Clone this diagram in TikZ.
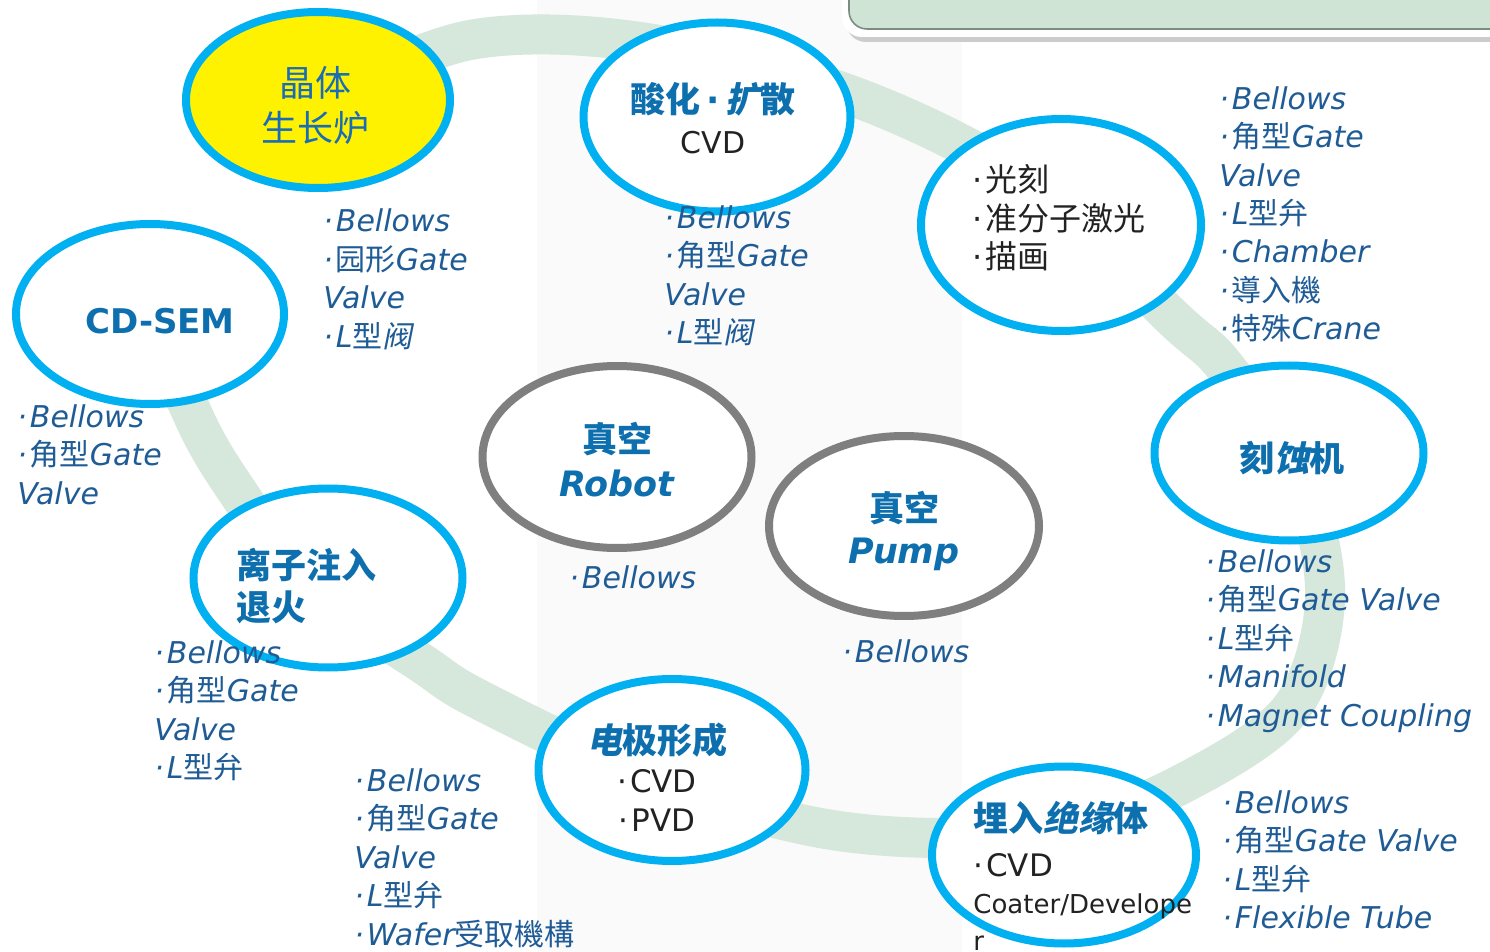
\documentclass[tikz,border=0pt]{standalone}
\usepackage{fontspec}
\setmainfont{DejaVu Sans}
\newfontfamily\cjk{Noto Sans CJK SC}
\newfontfamily\cjksl{Noto Sans CJK SC}[FakeSlant=0.2]
\usetikzlibrary{shapes.geometric, shadows}

\definecolor{ringblue}{HTML}{00B0F0}
\definecolor{ringgray}{HTML}{7F7F7F}
\definecolor{bandgreen}{HTML}{D6E7DC}
\definecolor{boxgreen}{HTML}{CFE4D5}
\definecolor{boxedge}{HTML}{7D8C82}
\definecolor{titleblue}{HTML}{0E6FAE}
\definecolor{itemblue}{HTML}{1F5C96}
\definecolor{crystalblue}{HTML}{1A6DB5}
\definecolor{darktext}{HTML}{222222}
\definecolor{paleband}{HTML}{FAFAFA}

\newcommand\zh[1]{{\cjk #1}}
\newcommand\zhsl[1]{{\cjksl #1}}
\newcommand\bul{·\kern1.5pt}

\pgfdeclarelayer{background}
\pgfsetlayers{background,main}

\begin{document}
\begin{tikzpicture}[ x = 0.5pt, y = -0.5pt
                   , station/.style = { ellipse
                                      , draw = ringblue
                                      , line width = 4pt
                                      , fill = white
                                      , inner sep = 0pt
                                      , drop shadow = {opacity = 0.2, shadow xshift = 1pt, shadow yshift = -1.5pt} }
                   , vacuum/.style = {station, draw = ringgray}
                   , headline/.style = { inner sep = 0pt
                                       , align = center
                                       , text = titleblue
                                       , font = \fontsize{17.5}{21}\selectfont\bfseries }
                   , itemlist/.style = { inner sep = 0pt
                                       , anchor = base west
                                       , align = left
                                       , text = itemblue
                                       , font = \fontsize{15}{19.25}\selectfont\itshape }
                   , band/.style = {line width = 20pt, draw = bandgreen}
                   ]

  \useasboundingbox (0,0) rectangle (1490,952);

  % box at the top, cut by the page edge
  \fill[black!20, rounded corners = 10pt] (846,-40) rectangle (1540,42);
  \fill[white, rounded corners = 10pt] (842,-40) rectangle (1540,37);
  \draw[fill = boxgreen, draw = boxedge, line width = 0.8pt, rounded corners = 9pt] (849,-40) rectangle (1540,29);

  % process steps
  \node (crystal) [station, fill = yellow, minimum width = 132pt, minimum height = 88pt] at (318,100) {};
  \node (oxid) [station, minimum width = 133.5pt, minimum height = 94.5pt] at (717,117) {};
  \node (litho) [station, minimum width = 140pt, minimum height = 106pt] at (1061,225) {};
  \node (etch) [station, minimum width = 134.5pt, minimum height = 87.5pt] at (1289,453) {};
  \node (isol) [station, minimum width = 132pt, minimum height = 88.5pt] at (1064,855) {};
  \node (electrode) [station, minimum width = 133.5pt, minimum height = 91pt] at (672,770) {};
  \node (implant) [station, minimum width = 134.5pt, minimum height = 89.5pt] at (328,578) {};
  \node (cdsem) [station, minimum width = 134pt, minimum height = 90pt] at (150,314) {};
  \node (robot) [vacuum, minimum width = 134.5pt, minimum height = 91pt] at (617,457) {};
  \node (pump) [vacuum, minimum width = 135pt, minimum height = 90pt] at (904,526) {};

  \begin{pgfonlayer}{background}
    \fill[white] (0,0) rectangle (1490,952);
    \fill[paleband] (537,0) rectangle (962,952);
    \draw[band] plot[smooth, tension = 0.55] coordinates
      { (crystal.center) (470,40) (640,42) (850,95) (1030,185) (1175,320) (1226,368)
        (1300,480) (1325,600) (1290,710) (1180,785) (1060,830) (935,838) (810,826)
        (650,780) (480,700) (420,662) (300,580) (243,500) (200,430) (cdsem.center) };
  \end{pgfonlayer}

  % texts in the ellipses (base = last line)
  \node (crystaltext) [inner sep = 0pt, align = center, text = crystalblue,
                       font = \fontsize{18}{22.5}\selectfont\cjk] at (315,105) {晶体\\生长炉};
  \node (oxidtext) [headline, anchor = base, font = \fontsize{17.5}{20.5}\selectfont\bfseries] at (713,154)
    {\zh{酸化}\,·\,\zhsl{扩}\zh{散}\\{\mdseries\fontsize{15}{15}\selectfont\color{darktext}CVD}};
  \node (lithotext) [inner sep = 0pt, anchor = base west, align = left, text = darktext,
                     font = \fontsize{16}{19.25}\selectfont] at (972,269)
    {\bul\zh{光刻}\\\bul\zh{准分子激光}\\\bul\zh{描画}};
  \node (etchtext) [headline] at (1292,458) {\zh{刻}\zhsl{蚀}\zh{机}};
  \node (isoltext) [inner sep = 0pt, anchor = base west, align = left, text = darktext,
                    font = \fontsize{13}{18.5}\selectfont] at (973,950)
    {{\color{titleblue}\bfseries\fontsize{17.5}{18.5}\selectfont\zh{埋入}\zhsl{绝缘}\zh{体}}\\[4pt]
     {\fontsize{15.5}{18.5}\selectfont \bul CVD}\\Coater/Develope\\r};
  \node (electrodetext) [headline, anchor = base, font = \fontsize{17.5}{19.5}\selectfont\bfseries] at (657,831)
    {\zhsl{电}\zh{极形成}\\{\mdseries\fontsize{15.5}{15.5}\selectfont\color{darktext}\bul CVD}\\
     {\mdseries\fontsize{15.5}{15.5}\selectfont\color{darktext}\bul PVD}};
  \node (implanttext) [headline, anchor = base west, align = left] at (236,620) {\zh{离子注入}\\\zh{退火}};
  \node (cdsemtext) [headline, font = \fontsize{17}{21}\selectfont\bfseries] at (160,321) {CD-SEM};
  \node (robottext) [headline, anchor = base, font = \fontsize{17.5}{22}\selectfont\bfseries] at (617,496)
    {\zh{真空}\\\itshape Robot};
  \node (pumptext) [headline, anchor = base, font = \fontsize{17.5}{21}\selectfont\bfseries] at (904,563)
    {\zh{真空}\\\itshape Pump};

  % parts used at each step (base = last line)
  \node (crystallist) [itemlist] at (323,347.5) {\bul Bellows\\\bul\zh{园形}Gate\\Valve\\\bul L\zh{型}\zhsl{阀}};
  \node (oxidlist) [itemlist] at (664,343.5) {\bul Bellows\\\bul\zh{角型}Gate\\Valve\\\bul L\zh{型}\zhsl{阀}};
  \node (litholist) [itemlist] at (1219,340)
    {\bul Bellows\\\bul\zh{角型}Gate\\Valve\\\bul L\zh{型弁}\\\bul Chamber\\\bul\zh{導入機}\\\bul\zh{特殊}Crane};
  \node (etchlist) [itemlist] at (1205,726)
    {\bul Bellows\\\bul\zh{角型}Gate Valve\\\bul L\zh{型弁}\\\bul Manifold\\\bul Magnet Coupling};
  \node (isollist) [itemlist] at (1222,928.5)
    {\bul Bellows\\\bul\zh{角型}Gate Valve\\\bul L\zh{型弁}\\\bul Flexible Tube};
  \node (electrodelist) [itemlist] at (354,945)
    {\bul Bellows\\\bul\zh{角型}Gate\\Valve\\\bul L\zh{型弁}\\\bul Wafer\zh{受取機構}};
  \node (implantlist) [itemlist] at (154,778.5) {\bul Bellows\\\bul\zh{角型}Gate\\Valve\\\bul L\zh{型弁}};
  \node (cdsemlist) [itemlist] at (17,504) {\bul Bellows\\\bul\zh{角型}Gate\\Valve};
  \node (robotlist) [itemlist] at (569,588) {\bul Bellows};
  \node (pumplist) [itemlist] at (842,662) {\bul Bellows};

\end{tikzpicture}
\end{document}
